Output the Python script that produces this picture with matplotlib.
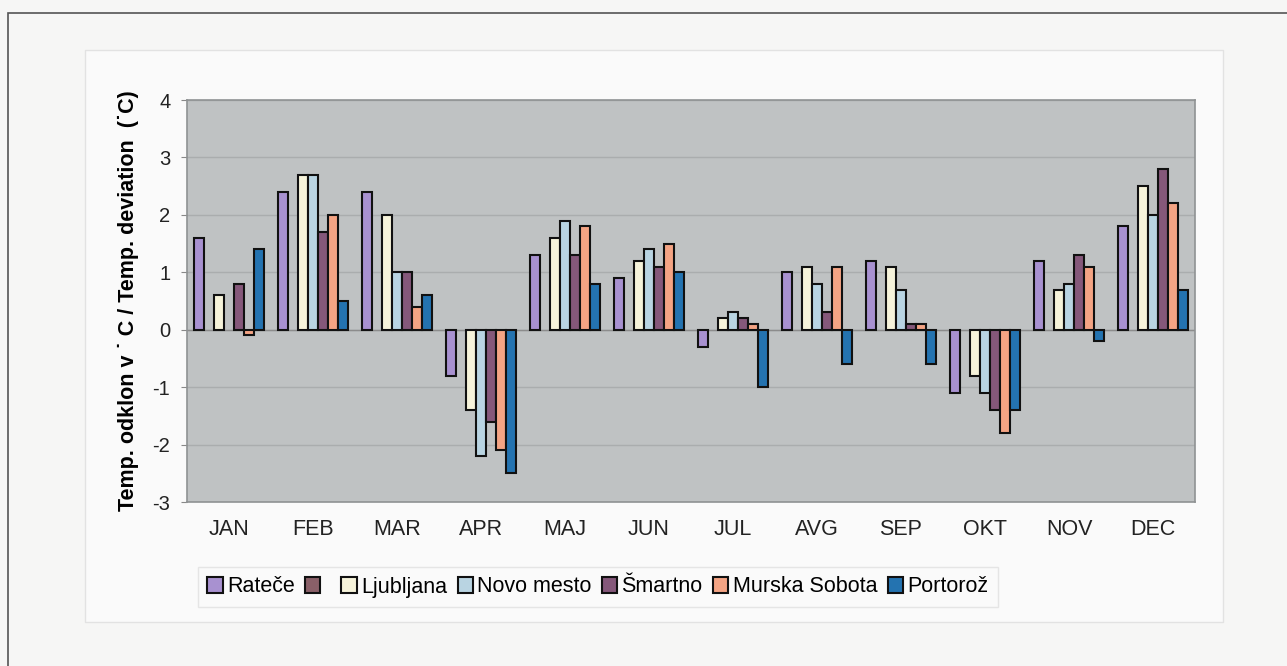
import numpy as np
import matplotlib.pyplot as plt
from matplotlib.patches import Rectangle

plt.rcParams['font.family'] = ['Liberation Sans', 'DejaVu Sans']
plt.rcParams['axes.unicode_minus'] = False

months = ['JAN', 'FEB', 'MAR', 'APR', 'MAJ', 'JUN', 'JUL', 'AVG', 'SEP', 'OKT', 'NOV', 'DEC']

# temperature deviation per station (°C); the unnamed series has no data
ratece = [1.6, 2.4, 2.4, -0.8, 1.3, 0.9, -0.3, 1.0, 1.2, -1.1, 1.2, 1.8]
unnamed = [np.nan] * 12
ljubljana = [0.6, 2.7, 2.0, -1.4, 1.6, 1.2, 0.2, 1.1, 1.1, -0.8, 0.7, 2.5]
novo_mesto = [np.nan, 2.7, 1.0, -2.2, 1.9, 1.4, 0.3, 0.8, 0.7, -1.1, 0.8, 2.0]
smartno = [0.8, 1.7, 1.0, -1.6, 1.3, 1.1, 0.2, 0.3, 0.1, -1.4, 1.3, 2.8]
murska_sobota = [-0.1, 2.0, 0.4, -2.1, 1.8, 1.5, 0.1, 1.1, 0.1, -1.8, 1.1, 2.2]
portoroz = [1.4, 0.5, 0.6, -2.5, 0.8, 1.0, -1.0, -0.6, -0.6, -1.4, -0.2, 0.7]

series = [ratece, unnamed, ljubljana, novo_mesto, smartno, murska_sobota, portoroz]
labels = ['Rateče', ' ', 'Ljubljana', 'Novo mesto', 'Šmartno', 'Murska Sobota', 'Portorož']
colors = ['#a891d0', '#8a6068', '#f6f3da', '#b9d4e2', '#85587a', '#f4a484', '#2473b0']

fig = plt.figure(figsize=(12.87, 6.66), dpi=100)
fig.patch.set_facecolor('#f6f6f5')

# outer page frame and inner chart panel (behind the axes)
fig.add_artist(Rectangle((8 / 1287, -0.05), 1.2, 1 - 13 / 666 + 0.05, transform=fig.transFigure,
                         fill=False, edgecolor='#555555', linewidth=1.2, zorder=-2))
fig.add_artist(Rectangle((85 / 1287, 1 - 622 / 666), (1223 - 85) / 1287, (622 - 50) / 666,
                         transform=fig.transFigure, facecolor='#fafafa', edgecolor='#e2e2e2',
                         linewidth=1.0, zorder=-1))

ax = fig.add_axes([187 / 1287, 1 - 502 / 666, (1195 - 187) / 1287, (502 - 100) / 666])
ax.set_facecolor('#bfc2c3')

x = np.arange(len(months))
w = 10 / 84
for i, (vals, lab, col) in enumerate(zip(series, labels, colors)):
    ax.bar(x + (i - 3) * w, vals, width=w, color=col, edgecolor='#111111',
           linewidth=1.5, label=lab, zorder=3)

ax.set_xlim(-0.5, 11.5)
ax.set_ylim(-3, 4)
ax.set_yticks(range(-3, 5))
ax.yaxis.grid(True, color='#aaadae', linewidth=1.0, zorder=0)
ax.axhline(0, color='#8c8c8c', linewidth=1.0, zorder=2)
ax.set_xticks(x)
ax.set_xticklabels(months)
ax.tick_params(axis='x', length=0, pad=12, labelsize=15.5, colors='#222222')
ax.tick_params(axis='y', length=4, color='#888888', pad=8, labelsize=14.5, colors='#222222')
for s in ax.spines.values():
    s.set_color('#8f9293')
    s.set_linewidth(1.2)

ax.set_ylabel('Temp. odklon v ˙ C / Temp. deviation  (˙C)', fontsize=15.5,
              fontweight='bold', labelpad=10)

leg = fig.legend(loc='center', bbox_to_anchor=(598 / 1287, 1 - 587 / 666), ncol=7,
                 fontsize=15.5, frameon=True, fancybox=False, edgecolor='#e0e0e0',
                 facecolor='#fafafa', handlelength=0.7, handleheight=0.7,
                 handletextpad=0.2, columnspacing=0.5, borderpad=0.45)
leg.get_frame().set_linewidth(1.0)

fig.savefig('out.png', dpi=100, facecolor=fig.get_facecolor())
